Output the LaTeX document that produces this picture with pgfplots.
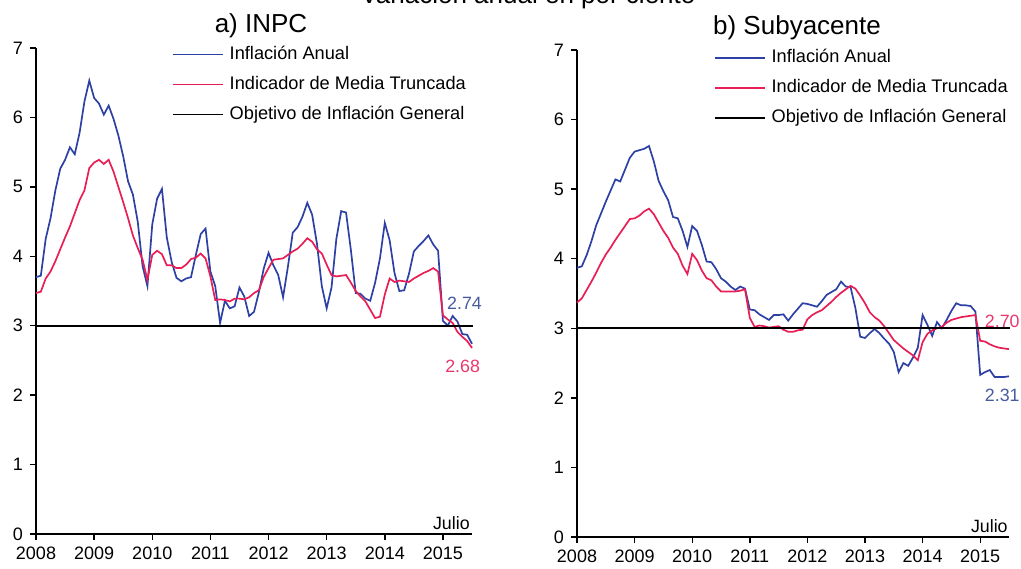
\documentclass[border=0pt]{standalone}
\usepackage{fontspec}
\setmainfont{Liberation Sans}
\usepackage{pgfplots}
\usepackage{pgfplotstable}
\pgfplotsset{compat=1.18}

\definecolor{blu}{RGB}{45,65,165}
\definecolor{rojo}{RGB}{232,30,85}
\definecolor{blulab}{RGB}{70,90,160}
\definecolor{rojolab}{RGB}{235,55,110}

% m = meses desde ene-2008, a = inflacion anual, t = media truncada
\pgfplotstableread{
m a t
0 3.70 3.47
1 3.72 3.49
2 4.25 3.68
3 4.55 3.78
4 4.95 3.93
5 5.26 4.10
6 5.39 4.27
7 5.57 4.43
8 5.47 4.62
9 5.78 4.81
10 6.23 4.95
11 6.53 5.27
12 6.28 5.35
13 6.20 5.39
14 6.04 5.33
15 6.17 5.39
16 5.98 5.22
17 5.74 5.00
18 5.44 4.78
19 5.08 4.55
20 4.89 4.30
21 4.50 4.12
22 3.86 3.95
23 3.57 3.66
24 4.46 4.02
25 4.83 4.08
26 4.97 4.03
27 4.27 3.87
28 3.92 3.87
29 3.69 3.83
30 3.64 3.83
31 3.68 3.88
32 3.70 3.96
33 4.02 3.98
34 4.32 4.04
35 4.40 3.97
36 3.78 3.71
37 3.57 3.37
38 3.04 3.38
39 3.36 3.37
40 3.25 3.35
41 3.28 3.39
42 3.55 3.39
43 3.42 3.38
44 3.14 3.41
45 3.20 3.47
46 3.48 3.51
47 3.82 3.70
48 4.05 3.83
49 3.87 3.95
50 3.73 3.96
51 3.41 3.97
52 3.85 4.02
53 4.34 4.07
54 4.42 4.11
55 4.57 4.18
56 4.77 4.26
57 4.60 4.21
58 4.18 4.10
59 3.57 4.04
60 3.25 3.88
61 3.55 3.73
62 4.25 3.71
63 4.65 3.72
64 4.63 3.73
65 4.09 3.62
66 3.47 3.50
67 3.46 3.42
68 3.39 3.35
69 3.36 3.23
70 3.62 3.11
71 3.97 3.13
72 4.48 3.45
73 4.23 3.68
74 3.76 3.63
75 3.50 3.65
76 3.51 3.64
77 3.75 3.63
78 4.07 3.68
79 4.15 3.72
80 4.22 3.76
81 4.30 3.79
82 4.17 3.83
83 4.08 3.78
84 3.07 3.15
85 3.00 3.09
86 3.14 3.04
87 3.06 2.91
88 2.88 2.84
89 2.87 2.78
90 2.74 2.68
}\inpc

\pgfplotstableread{
m a t
0 3.87 3.37
1 3.89 3.43
2 4.05 3.55
3 4.25 3.67
4 4.48 3.80
5 4.65 3.94
6 4.82 4.06
7 4.98 4.16
8 5.14 4.27
9 5.11 4.37
10 5.28 4.47
11 5.45 4.57
12 5.54 4.58
13 5.56 4.62
14 5.58 4.68
15 5.62 4.72
16 5.40 4.64
17 5.12 4.52
18 4.97 4.40
19 4.84 4.30
20 4.60 4.16
21 4.58 4.07
22 4.40 3.90
23 4.17 3.78
24 4.47 4.07
25 4.40 3.98
26 4.20 3.83
27 3.96 3.72
28 3.95 3.69
29 3.85 3.60
30 3.72 3.53
31 3.67 3.53
32 3.60 3.53
33 3.55 3.53
34 3.60 3.54
35 3.57 3.56
36 3.27 3.15
37 3.26 3.02
38 3.20 3.04
39 3.16 3.03
40 3.12 3.01
41 3.19 3.02
42 3.19 3.03
43 3.20 2.98
44 3.11 2.95
45 3.20 2.95
46 3.28 2.97
47 3.36 2.98
48 3.35 3.13
49 3.33 3.19
50 3.31 3.23
51 3.39 3.26
52 3.48 3.32
53 3.52 3.38
54 3.56 3.45
55 3.67 3.51
56 3.60 3.56
57 3.59 3.61
58 3.29 3.57
59 2.88 3.47
60 2.86 3.36
61 2.93 3.23
62 2.99 3.16
63 2.93 3.11
64 2.85 3.03
65 2.78 2.93
66 2.66 2.83
67 2.37 2.77
68 2.50 2.71
69 2.46 2.66
70 2.58 2.61
71 2.72 2.54
72 3.19 2.80
73 3.05 2.92
74 2.89 2.97
75 3.09 3.00
76 3.00 3.02
77 3.12 3.08
78 3.25 3.12
79 3.36 3.14
80 3.33 3.16
81 3.33 3.17
82 3.32 3.18
83 3.24 3.19
84 2.33 2.82
85 2.37 2.81
86 2.40 2.77
87 2.30 2.74
88 2.30 2.72
89 2.30 2.71
90 2.31 2.70
}\suby

\tikzset{etiq/.style={inner sep=0pt, font=\fontsize{8.9}{10}\selectfont}}

\pgfplotsset{
  panel/.style={
    scale only axis,
    anchor=south west,
    xmin=0, xmax=90, ymin=0, ymax=7,
    axis x line*=bottom, axis y line*=left,
    xtick={0,12,24,36,48,60,72,84},
    xticklabels={2008,2009,2010,2011,2012,2013,2014,2015},
    ytick={0,1,2,3,4,5,6,7},
    tick align=outside,
    major tick length=3pt,
    ticklabel style={font=\fontsize{9}{10}\selectfont},
    /pgf/number format/assume math mode=true,
    axis line style={line width=0.7pt},
    every tick/.style={black, line width=0.7pt},
    clip=false,
    legend cell align=left,
    legend image code/.code={\draw[##1] (0pt,0pt) -- (25pt,0pt);},
    legend style={draw=none, fill=none, inner sep=0pt, outer sep=0pt,
      anchor=north west, row sep=6.7pt, column sep=3pt,
      font=\fontsize{9.1}{10}\selectfont,
      nodes={inner sep=0pt, text height=6.5pt, text depth=1.8pt}},
  },
  serie/.style={line width=0.85pt},
}

\begin{document}
\begin{tikzpicture}
\useasboundingbox (0,0) rectangle (510.5pt,284pt);
\clip (0,0) rectangle (510.5pt,284pt);

\node[anchor=base, font=\fontsize{13}{15}\selectfont] at (264pt,282pt) {Variación anual en por ciento};
\node[anchor=base, font=\fontsize{13}{15}\selectfont] at (130.5pt,267.5pt) {a) INPC};
\node[anchor=base, font=\fontsize{13}{15}\selectfont] at (398.5pt,266.5pt) {b) Subyacente};

\begin{axis}[panel, at={(18pt,17pt)}, width=218pt, height=243pt,
  legend style={at={(0.312,1.004)}}]
\addplot[serie, blu] table[x=m, y=a] {\inpc};
\addlegendentry{Inflación Anual}
\addplot[serie, rojo] table[x=m, y=t] {\inpc};
\addlegendentry{Indicador de Media Truncada}
\addplot[serie, black] coordinates {(0,3) (90.2,3)};
\addlegendentry{Objetivo de Inflación General}
\node[etiq, anchor=west, text=blulab] at (axis cs:84.8,3.32) {2.74};
\node[etiq, anchor=west, text=rojolab] at (axis cs:84.4,2.42) {2.68};
\node[etiq, anchor=base east] at (axis cs:89.6,0.06) {Julio};
\end{axis}

\begin{axis}[panel, at={(288.5pt,15.5pt)}, width=216pt, height=243.5pt,
  legend style={at={(0.317,1.0)}}]
\addplot[serie, blu] table[x=m, y=a] {\suby};
\addlegendentry{Inflación Anual}
\addplot[serie, rojo] table[x=m, y=t] {\suby};
\addlegendentry{Indicador de Media Truncada}
\addplot[serie, black] coordinates {(0,3) (90.3,3)};
\addlegendentry{Objetivo de Inflación General}
\node[etiq, anchor=west, text=rojolab] at (axis cs:84.9,3.10) {2.70};
\node[etiq, anchor=west, text=blulab] at (axis cs:84.9,2.04) {2.31};
\node[etiq, anchor=base east] at (axis cs:89.8,0.06) {Julio};
\end{axis}
\end{tikzpicture}
\end{document}
